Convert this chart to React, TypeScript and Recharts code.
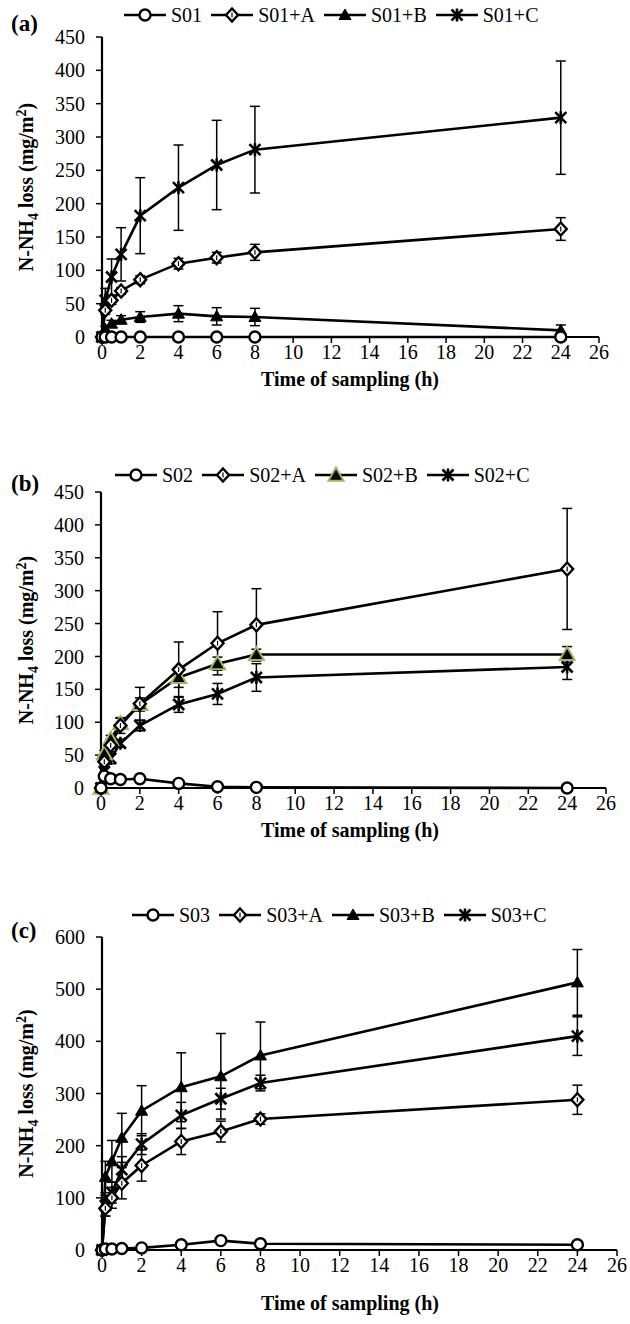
import React from 'react'
import { LineChart, Line, XAxis, YAxis, ErrorBar, Legend } from 'recharts'

const FONT = '"Liberation Serif", "Times New Roman", serif'

// sampling times (h)
const times = [0, 0.17, 0.5, 1, 2, 4, 6, 8, 24]
const xTicks = [0, 2, 4, 6, 8, 10, 12, 14, 16, 18, 20, 22, 24, 26]
const yTicks450 = [0, 50, 100, 150, 200, 250, 300, 350, 400, 450]
const yTicks600 = [0, 100, 200, 300, 400, 500, 600]

// panel (a)
const s01 = [0, 0, 0, 0, 0, 0, 0, 0, 0]
const s01A = [0, 40, 55, 69, 86, 110, 119, 127, 162]
const s01AErr = [0, 6, 6, 5, 6, 8, 8, 12, 17]
const s01B = [0, 12, 20, 26, 30, 35, 31, 30, 10]
const s01BErr = [0, 4, 5, 6, 8, 12, 13, 13, 8]
const s01C = [0, 55, 90, 124, 182, 224, 258, 281, 329]
const s01CErr = [0, 18, 27, 40, 57, 64, 67, 65, 85]

// panel (b)
const s02 = [0, 18, 14, 13, 14, 7, 2, 1, 0]
const s02A = [0, 40, 65, 95, 128, 180, 220, 248, 333]
const s02AErr = [0, 6, 10, 12, 25, 42, 48, 55, 92]
const s02B = [0, 52, 74, 98, 127, 168, 189, 203, 203]
const s02BErr = [0, 5, 6, 8, 10, 15, 10, 8, 12]
const s02C = [0, 25, 45, 68, 95, 127, 143, 168, 184]
const s02CErr = [0, 5, 8, 6, 8, 12, 16, 21, 19]

// panel (c)
const s03 = [0, 2, 2, 3, 4, 10, 18, 12, 10]
const s03Err = [0, 0, 0, 0, 0, 2, 4, 2, 2]
const s03A = [0, 80, 100, 128, 162, 208, 227, 251, 288]
const s03AErr = [0, 15, 20, 30, 30, 25, 20, 10, 28]
const s03B = [0, 140, 170, 215, 267, 312, 333, 373, 513]
const s03BErr = [0, 30, 40, 47, 48, 66, 82, 64, 63]
const s03C = [0, 85, 110, 154, 203, 258, 290, 320, 410]
const s03CErr = [0, 20, 20, 25, 20, 25, 20, 15, 37]

type Kind = 'circle' | 'diamond' | 'triangle' | 'star'

function Marker({ kind, cx, cy, tint }: { kind: Kind; cx: number; cy: number; tint?: string }) {
  if (cx == null || cy == null) return null
  if (kind === 'circle') {
    return <circle cx={cx} cy={cy} r={5.5} fill="#fff" stroke="#000" strokeWidth={2.4} />
  }
  if (kind === 'diamond') {
    return (
      <g>
        <path d={`M${cx},${cy - 6.5}L${cx + 6},${cy}L${cx},${cy + 6.5}L${cx - 6},${cy}Z`} fill="#fff" stroke="#000" strokeWidth={2.4} />
        <line x1={cx} y1={cy - 2.5} x2={cx} y2={cy + 2.5} stroke="#000" strokeWidth={1.2} />
      </g>
    )
  }
  if (kind === 'triangle') {
    const s = tint ? 7.5 : 6
    return (
      <path
        d={`M${cx},${cy - s}L${cx + s},${cy + s * 0.75}L${cx - s},${cy + s * 0.75}Z`}
        fill="#000"
        stroke={tint || '#000'}
        strokeWidth={tint ? 2 : 1}
      />
    )
  }
  return (
    <g stroke="#000" strokeWidth={2.6}>
      <line x1={cx - 5.5} y1={cy - 5.5} x2={cx + 5.5} y2={cy + 5.5} />
      <line x1={cx - 5.5} y1={cy + 5.5} x2={cx + 5.5} y2={cy - 5.5} />
      <line x1={cx} y1={cy - 6.5} x2={cx} y2={cy + 6.5} />
    </g>
  )
}

interface Series {
  name: string
  kind: Kind
  values: number[]
  errors?: number[]
  tint?: string
}

interface Panel {
  tag: string
  top: number
  height: number
  margin: { top: number; right: number; bottom: number; left: number }
  yMax: number
  yTicks: number[]
  legendTop: number
  legendLeft: number
  tagY: number
  titleDy: number
  series: Series[]
}

const panels: Panel[] = [
  {
    tag: '(a)',
    top: 0,
    height: 430,
    margin: { top: 13, right: 31, bottom: 33, left: 32 },
    yMax: 450,
    yTicks: yTicks450,
    legendTop: 3,
    legendLeft: 124,
    tagY: 31,
    titleDy: 49,
    series: [
      { name: 'S01', kind: 'circle', values: s01 },
      { name: 'S01+A', kind: 'diamond', values: s01A, errors: s01AErr },
      { name: 'S01+B', kind: 'triangle', values: s01B, errors: s01BErr },
      { name: 'S01+C', kind: 'star', values: s01C, errors: s01CErr },
    ],
  },
  {
    tag: '(b)',
    top: 430,
    height: 440,
    margin: { top: 38, right: 24, bottom: 22, left: 31 },
    yMax: 450,
    yTicks: yTicks450,
    legendTop: 33,
    legendLeft: 115,
    tagY: 61,
    titleDy: 49,
    series: [
      { name: 'S02', kind: 'circle', values: s02 },
      { name: 'S02+A', kind: 'diamond', values: s02A, errors: s02AErr },
      { name: 'S02+B', kind: 'triangle', values: s02B, errors: s02BErr, tint: '#9bbb59' },
      { name: 'S02+C', kind: 'star', values: s02C, errors: s02CErr },
    ],
  },
  {
    tag: '(c)',
    top: 870,
    height: 454,
    margin: { top: 43, right: 13, bottom: 14, left: 32 },
    yMax: 600,
    yTicks: yTicks600,
    legendTop: 33,
    legendLeft: 132,
    tagY: 68,
    titleDy: 60,
    series: [
      { name: 'S03', kind: 'circle', values: s03, errors: s03Err },
      { name: 'S03+A', kind: 'diamond', values: s03A, errors: s03AErr },
      { name: 'S03+B', kind: 'triangle', values: s03B, errors: s03BErr },
      { name: 'S03+C', kind: 'star', values: s03C, errors: s03CErr },
    ],
  },
]

function ChartPanel({ p }: { p: Panel }) {
  const rows = times.map((t, i) => {
    const row: Record<string, number> = { t }
    p.series.forEach((s, k) => {
      row[`v${k}`] = s.values[i]
      if (s.errors) row[`e${k}`] = s.errors[i]
    })
    return row
  })

  const plotTop = p.margin.top + 24
  const plotBottom = p.height - p.margin.bottom - 60
  const midY = (plotTop + plotBottom) / 2

  const renderLegend = () => (
    <div style={{ display: 'flex', alignItems: 'center', paddingLeft: p.legendLeft, height: 24, fontSize: 20, fontFamily: FONT, color: '#000' }}>
      {p.series.map((s) => (
        <div key={s.name} style={{ display: 'flex', alignItems: 'center', marginRight: 9 }}>
          <svg width={42} height={20}>
            <line x1={0} y1={10} x2={42} y2={10} stroke="#000" strokeWidth={2.5} />
            <Marker kind={s.kind} cx={21} cy={10} tint={s.tint} />
          </svg>
          <span style={{ marginLeft: 5 }}>{s.name}</span>
        </div>
      ))}
    </div>
  )

  const yTitle = () => (
    <g fontFamily={FONT} fill="#000">
      <text x={33} y={midY} transform={`rotate(-90 33 ${midY})`} textAnchor="middle" fontWeight="bold" fontSize={20}>
        N-NH<tspan dy={5} fontSize={14}>4</tspan>
        <tspan dy={-5}> loss (mg/m</tspan>
        <tspan dy={-7} fontSize={14}>2</tspan>
        <tspan dy={7}>)</tspan>
      </text>
      <text x={11} y={p.tagY} fontWeight="bold" fontSize={23}>{p.tag}</text>
    </g>
  )

  const xTitle = () => (
    <text x={350} y={plotBottom + p.titleDy} textAnchor="middle" fontWeight="bold" fontSize={20} fontFamily={FONT} fill="#000">
      Time of sampling (h)
    </text>
  )

  return (
    <LineChart width={630} height={p.height} data={rows} margin={p.margin} style={{ fontFamily: FONT }}>
      <Legend
        verticalAlign="top"
        align="left"
        content={renderLegend}
        wrapperStyle={{ left: 0, top: p.legendTop, width: 630, height: 24 }}
      />
      <XAxis
        dataKey="t"
        type="number"
        domain={[0, 26]}
        ticks={xTicks}
        interval={0}
        height={60}
        tickSize={6}
        tickMargin={2}
        tick={{ fill: '#000', fontSize: 20 }}
        tickLine={{ stroke: '#000', strokeWidth: 1.5 }}
        axisLine={{ stroke: '#000', strokeWidth: 2.2 }}
        label={xTitle}
      />
      <XAxis
        xAxisId="top"
        orientation="top"
        type="number"
        domain={[0, 26]}
        height={0}
        tick={false}
        tickLine={false}
        axisLine={{ stroke: '#000', strokeWidth: 1.8 }}
      />
      <YAxis
        type="number"
        domain={[0, p.yMax]}
        ticks={p.yTicks}
        interval={0}
        width={70}
        tickSize={6}
        tickMargin={11}
        tick={{ fill: '#000', fontSize: 20 }}
        tickLine={{ stroke: '#000', strokeWidth: 1.5 }}
        axisLine={{ stroke: '#000', strokeWidth: 2.2 }}
        label={yTitle}
      />
      <YAxis
        yAxisId="right"
        orientation="right"
        type="number"
        domain={[0, p.yMax]}
        width={0}
        tick={false}
        tickLine={false}
        axisLine={{ stroke: '#000', strokeWidth: 1.8 }}
      />
      {p.series
        .map((s, k) => (
          <Line
            key={s.name}
            name={s.name}
            dataKey={`v${k}`}
            type="linear"
            stroke="#000"
            strokeWidth={2.6}
            isAnimationActive={false}
            dot={(props: any) => (
              <Marker key={`${s.name}-${props.index}`} kind={s.kind} cx={props.cx} cy={props.cy} tint={s.tint} />
            )}
            activeDot={false}
          >
            {s.errors && (
              <ErrorBar dataKey={`e${k}`} direction="y" width={5} stroke="#000" strokeWidth={1.5} />
            )}
          </Line>
        ))
        .reverse()}
    </LineChart>
  )
}

export default function App() {
  return (
    <div style={{ position: 'absolute', left: 0, top: 0, width: 630, height: 1324, background: '#fff' }}>
      {panels.map((p) => (
        <div key={p.tag} style={{ position: 'absolute', left: 0, top: p.top, width: 630, height: p.height }}>
          <ChartPanel p={p} />
        </div>
      ))}
    </div>
  )
}
